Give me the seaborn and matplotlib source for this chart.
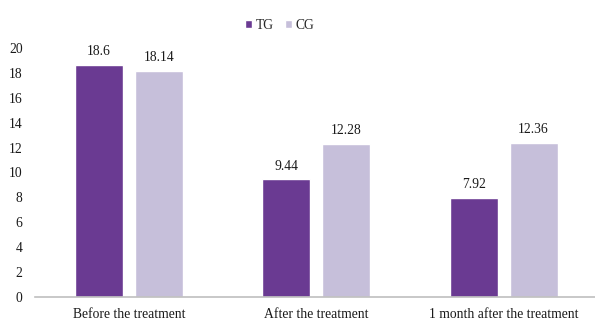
import matplotlib
matplotlib.use("Agg")
import matplotlib.pyplot as plt
import seaborn as sns
import pandas as pd

categories = ["Before the treatment", "After the treatment", "1 month after the treatment"]
tg_values = [18.6, 9.44, 7.92]
cg_values = [18.14, 12.28, 12.36]
value_labels_tg = ["18.6", "9.44", "7.92"]
value_labels_cg = ["18.14", "12.28", "12.36"]
groups = ["TG", "CG"]
colors = {"TG": "#6A3A92", "CG": "#C6BFDA"}

df = pd.DataFrame({
    "period": categories * 2,
    "group": ["TG"] * 3 + ["CG"] * 3,
    "value": tg_values + cg_values,
})

sns.set_theme(style="white")
plt.rcParams["font.family"] = ["Liberation Serif", "DejaVu Serif"]

fig = plt.figure(figsize=(5.95, 3.2), dpi=100)
ax = fig.add_axes([0.059, 0.072, 0.945, 0.778])

sns.barplot(data=df, x="period", y="value", hue="group", order=categories,
            hue_order=groups, palette=colors, width=0.64, gap=0.2,
            ax=ax, legend=True, saturation=1)

fs = 9.8
ax.set_ylim(0, 20)
ax.set_xlim(-0.5, 2.5)
ax.set_yticks(range(0, 21, 2))
ax.tick_params(axis="both", length=0, labelsize=fs, colors="#1a1a1a")
ax.tick_params(axis="y", pad=9)
ax.tick_params(axis="x", pad=8)
ax.set_xlabel("")
ax.set_ylabel("")
for side in ["top", "right", "left"]:
    ax.spines[side].set_visible(False)
ax.spines["bottom"].set_color("#BFBFBF")
ax.spines["bottom"].set_linewidth(1.2)

labels_by_group = [value_labels_tg, value_labels_cg]
for container, labs in zip(ax.containers, labels_by_group):
    ax.bar_label(container, labels=labs, padding=5, fontsize=fs, color="#1a1a1a")

ax.legend(loc="upper center", bbox_to_anchor=(0.435, 1.165), ncol=2, frameon=False,
          fontsize=fs, handlelength=0.5, handleheight=0.5, handletextpad=0.3,
          columnspacing=0.8)

fig.savefig("out.png", dpi=100)
